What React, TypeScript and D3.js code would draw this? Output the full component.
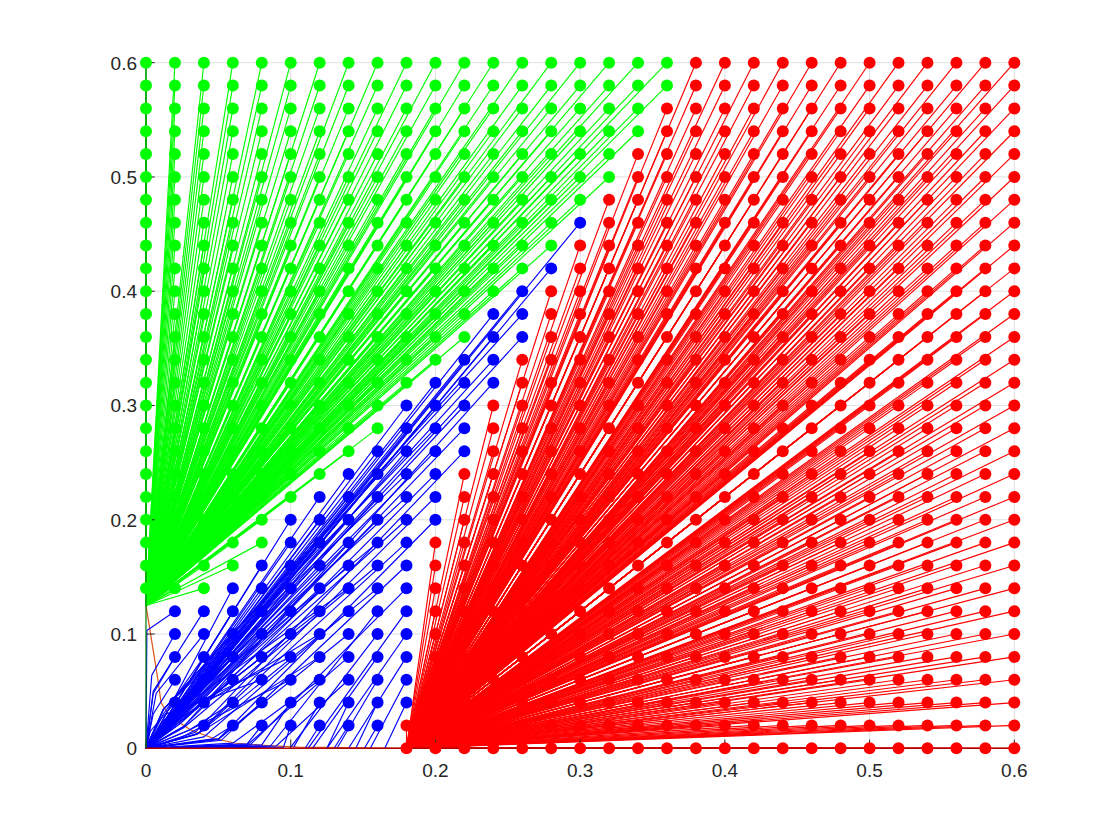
import React from "react";
import * as d3 from "d3";

const tickValues = [0, 0.1, 0.2, 0.3, 0.4, 0.5, 0.6];
const columnX = [0, .02, .04, .06, .08, .1, .12, .14, .16, .18, .2, .22, .24, .26, .28, .3, .32, .34, .36, .38, .4, .42, .44, .46, .48, .5, .52, .54, .56, .58, .6];
const rowY = [.6, .58, .56, .54, .52, .5, .48, .46, .44, .42, .4, .38, .36, .34, .32, .3, .28, .26, .24, .22, .2, .18, .16, .14, .12, .1, .08, .06, .04, .02, 0];
const greenLast = [.36, .36, .34, .34, .32, .32, .3, .28, .28, .26, .24, .22, .22, .2, .18, .16, .16, .14, .12, .1, .08, .08, .06, .04, -1, -1, -1, -1, -1, -1, -1];
const redFirst = [.38, .38, .36, .36, .34, .34, .32, .32, .3, .3, .28, .28, .28, .26, .26, .24, .24, .24, .22, .22, .22, .2, .2, .2, .2, .2, .2, .2, .2, .18, .18];
const blueFirst = [.02, .02, .02, .02, .02, .04, .18];
const greenTarget = [0, 0.125];
const redTarget = [0.18, 0];
const boundaryX = [0, .0083, .0104, .0145, .02, .031, .046, .062, .081, .105, .18];
const boundaryY = [.125, .0595, .04, .0315, .025, .016, .009, .0044, .0026, .001, 0];

// where each blue trajectory meets the boundary, row by row, from left to right
const blueEndX: Record<string, number[]> = {
  ".46": [.006], ".42": [.006], ".4": [.005],
  ".38": [.004, .012], ".36": [.006, .018], ".34": [.005, .016],
  ".32": [.004, .012, .026], ".3": [.003, .008, .018], ".28": [.004, .012, .024],
  ".26": [.002, .008, .018, .034], ".24": [.002, .004, .012, .026],
  ".22": [.002, .002, .006, .016, .036], ".2": [.002, .002, .004, .01, .024, .05],
  ".18": [.002, .003, .006, .016, .036], ".16": [.002, .002, .004, .01, .026, .052],
  ".14": [.002, .002, .003, .006, .016, .036, .072],
  ".12": [.0006, .005, .003, .003, .005, .01, .04, .086, .112],
  ".1": [.004, .007, .004, .004, .008, .02, .05, .1, .125],
  ".08": [.005, .012, .006, .008, .016, .035, .07, .115, .14],
  ".06": [.005, .012, .018, .014, .03, .06, .09, .132, .155],
  ".04": [.003, .012, .03, .05, .08, .102, .125, .145, .165],
  ".02": [.022, .045, .07, .095, .11, .13, .151],
};
const blueEndY: Record<string, number[]> = {
  ".46": [.006], ".42": [.006], ".4": [.005],
  ".38": [.004, .034], ".36": [.006, .026], ".34": [.005, .029],
  ".32": [.004, .034, .019], ".3": [.003, .008, .026], ".28": [.004, .034, .022],
  ".26": [.002, .008, .026, .014], ".24": [.002, .004, .034, .019],
  ".22": [.002, .002, .006, .028, .013], ".2": [.002, .002, .004, .01, .022, .008],
  ".18": [.002, .003, .006, .028, .013], ".16": [.002, .002, .004, .01, .018, .007],
  ".14": [.002, .002, .003, .006, .028, .013, .003],
  ".12": [.103, .05, .003, .003, .005, .01, .01, .002, 0],
  ".1": [.064, .048, .004, .004, .008, .024, .008, .001, 0],
  ".08": [.048, .03, .006, .008, .028, .012, .003, 0, 0],
  ".06": [.03, .024, .02, .03, .016, .0045, .002, 0, 0],
  ".04": [.015, .012, .016, .008, .003, .001, 0, 0, 0],
  ".02": [.008, .008, .004, .001, 0, 0, 0],
};

const GREEN = "#00ff00";
const BLUE = "#0000ff";
const RED = "#ff0000";
const INK = "#262626";

const x = d3.scaleLinear().domain([0, 0.6]).range([146, 1014.3]);
const y = d3.scaleLinear().domain([0, 0.6]).range([748.3, 62.7]);
const line = d3.line<number[]>().x((d) => x(d[0])).y((d) => y(d[1]));
const rowKey = (v: number) => String(v).replace(/^0/, "");

type Trace = { p: number[]; path: number[][] };
const greens: Trace[] = [];
const blues: Trace[] = [];
const reds: Trace[] = [];

rowY.forEach((ry, r) => {
  const endX = blueEndX[rowKey(ry)] || [];
  const endY = blueEndY[rowKey(ry)] || [];
  let b = 0;
  columnX.forEach((cx) => {
    const p = [cx, ry];
    if (cx >= redFirst[r] - 1e-9) {
      reds.push({ p, path: [p, redTarget] });
    } else if (cx <= greenLast[r] + 1e-9) {
      greens.push({ p, path: [p, greenTarget] });
    } else if (ry <= 0.12 + 1e-9) {
      const first = blueFirst[rowY.length - 1 - r > 6 ? 0 : 6 - (rowY.length - 1 - r)];
      if (cx >= first - 1e-9 && b < endX.length) {
        const e = [endX[b], endY[b]];
        blues.push({ p, path: endX[b] < 0.1 ? [p, e, [0, 0]] : [p, e] });
        b++;
      }
    } else if (b < endX.length) {
      const e = [endX[b], endY[b]];
      blues.push({ p, path: [p, e, [0, 0]] });
      b++;
    }
  });
});

function Traces({ items, color }: { items: Trace[]; color: string }) {
  return (
    <g fill="none" stroke={color} strokeWidth={1.15}>
      {items.map((t, i) => (
        <path key={i} d={line(t.path) || ""} />
      ))}
    </g>
  );
}

function Dots({ items, color }: { items: Trace[]; color: string }) {
  return (
    <g fill={color}>
      {items.map((t, i) => (
        <circle key={i} cx={x(t.p[0])} cy={y(t.p[1])} r={6} />
      ))}
    </g>
  );
}

export default function App() {
  const boundary = boundaryX.map((v, i) => [v, boundaryY[i]]);
  return (
    <svg
      width={1120}
      height={840}
      style={{ position: "absolute", left: 0, top: 0, background: "#fff" }}
      fontFamily="'Liberation Sans', Arial, sans-serif"
    >
      <g stroke="#dfdfdf" strokeWidth={1}>
        {tickValues.map((t) => (
          <g key={t}>
            <line x1={x(t)} x2={x(t)} y1={y(0)} y2={y(0.6)} />
            <line x1={x(0)} x2={x(0.6)} y1={y(t)} y2={y(t)} />
          </g>
        ))}
      </g>
      <path d={line(boundary) || ""} fill="none" stroke="#d95319" strokeWidth={1.2} />
      <Traces items={blues} color={BLUE} />
      <Dots items={blues} color={BLUE} />
      <Traces items={greens} color={GREEN} />
      <Traces items={reds} color={RED} />
      <g stroke={INK} strokeWidth={1}>
        {tickValues.map((t) => (
          <g key={t}>
            <line x1={x(t)} x2={x(t)} y1={y(0)} y2={y(0) - 8.7} />
            <line x1={x(0)} x2={x(0) + 8.7} y1={y(t)} y2={y(t)} />
          </g>
        ))}
      </g>
      <line x1={x(0)} x2={x(0)} y1={y(0)} y2={y(0.6)} stroke="#008000" strokeWidth={1.2} />
      <line x1={x(0)} x2={x(0.6)} y1={y(0)} y2={y(0)} stroke="#b00000" strokeWidth={1.4} />
      <Dots items={greens} color={GREEN} />
      <Dots items={reds} color={RED} />
      <g fill={INK} fontSize={19}>
        {tickValues.map((t) => (
          <text key={t} x={x(t)} y={777} textAnchor="middle">{d3.format("")(t)}</text>
        ))}
        {tickValues.map((t) => (
          <text key={t} x={137} y={y(t) + 6.8} textAnchor="end">{d3.format("")(t)}</text>
        ))}
      </g>
    </svg>
  );
}
